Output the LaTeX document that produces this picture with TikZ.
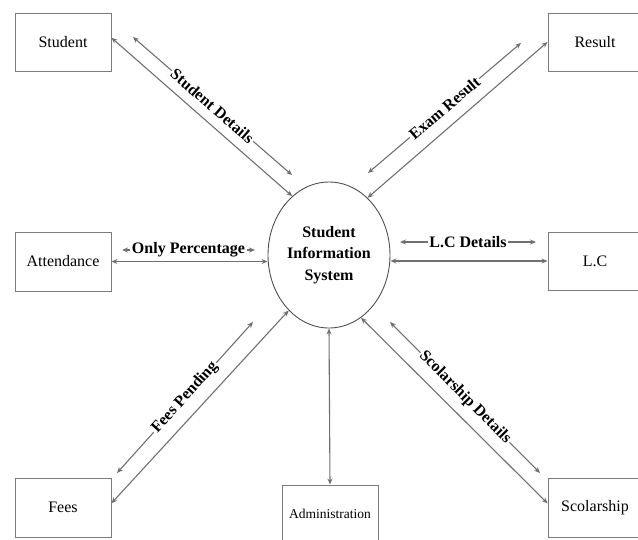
\documentclass[tikz,border=0pt]{standalone}
\usepackage{fontspec}
\setmainfont{Liberation Serif}
\usetikzlibrary{shapes.geometric,arrows.meta}
\definecolor{linegray}{HTML}{707070}
\definecolor{boxgray}{HTML}{7C7C7C}
\definecolor{rimgray}{HTML}{505050}
\tikzset{
  box/.style={draw=boxgray, line width=0.9pt, minimum width=96pt, minimum height=58pt, inner sep=0pt, font=\fontsize{16}{19}\selectfont},
  flow/.style={draw=linegray, line width=1.1pt, {Stealth[length=6pt,width=5pt]}-{Stealth[length=6pt,width=5pt]}},
  lbl/.style={fill=white, inner sep=1.5pt, sloped, font=\bfseries\fontsize{16}{19}\selectfont}
}
\begin{document}
\begin{tikzpicture}[x=1pt,y=-1pt]
\useasboundingbox (0,0) rectangle (638,539);
\clip (0,0) rectangle (638,539);
\node [draw=rimgray, line width=0.9pt, ellipse, minimum width=122pt, minimum height=146pt, inner sep=0pt, align=center, font=\bfseries\fontsize{16}{21.5}\selectfont] (sis) at (329,255) {Student\\Information\\System};
\node [box] (student) at (63,42) {Student};
\node [box, minimum width=94pt] (result) at (595,42) {Result};
\node [box, minimum height=59pt] (attendance) at (63,261.5) {Attendance};
\node [box, minimum width=94pt] (lc) at (595,261) {L.C};
\node [box, minimum height=59pt] (fees) at (63,507.5) {Fees};
\node [box, font=\fontsize{13.5}{16}\selectfont] (admin) at (330,514) {Administration};
\node [box, minimum width=94pt, minimum height=59pt] (scolarship) at (595,507.5) {Scolarship};
\coordinate (sdA) at (133,37);  \coordinate (sdB) at (292,175);
\coordinate (erA) at (368,173); \coordinate (erB) at (521,43);
\coordinate (opA) at (122,250); \coordinate (opB) at (255,250);
\coordinate (lcA) at (400,242); \coordinate (lcB) at (536,242);
\coordinate (fpA) at (117,473); \coordinate (fpB) at (253,322);
\coordinate (scA) at (390,322); \coordinate (scB) at (540,473);
\draw [flow] (sdA) -- node [lbl] {Student Details} (sdB);
\draw [flow] (erA) -- node [lbl] {Exam Result} (erB);
\draw [flow] (opA) -- node [lbl] {Only Percentage} (opB);
\draw [flow] (lcA) -- node [lbl] {L.C Details} (lcB);
\draw [flow] (fpA) -- node [lbl] {Fees Pending} (fpB);
\draw [flow] (scA) -- node [lbl] {Scolarship Details} (scB);
\draw [flow] (student.5) -- (sis.122);
\draw [flow] (sis.56) -- (result.west);
\draw [flow] (attendance.east) -- (attendance.east -| sis.west);
\draw [flow] (sis.east |- lc.west) -- (lc.west);
\draw [flow] (fees.5) -- (sis.234);
\draw [flow] (sis.south) -- (admin.north);
\draw [flow] (sis.297) -- (scolarship.175);
\end{tikzpicture}
\end{document}
